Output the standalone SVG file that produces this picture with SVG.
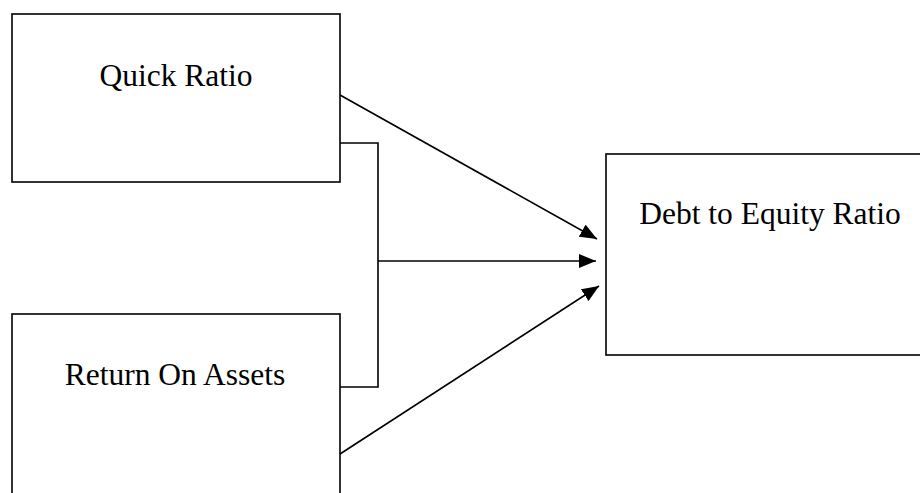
<svg xmlns="http://www.w3.org/2000/svg" width="920" height="493" viewBox="0 0 920 493">
<style>
.box{fill:#fff;stroke:#000;stroke-width:1.6}
.lbl{font-family:"Liberation Serif","Times New Roman",serif;font-size:31.5px;fill:#000;text-anchor:middle}
.c{fill:none;stroke:#000;stroke-width:1.6}
</style>
<defs>
<marker id="ah" markerWidth="17" markerHeight="14" refX="17" refY="7" orient="auto" markerUnits="userSpaceOnUse">
<path d="M0,0 L17,7 L0,14 Z" fill="#000"/>
</marker>
</defs>
<rect width="920" height="493" fill="#fff"/>
<g id="quick-ratio">
<rect class="box" x="12" y="14" width="328" height="168"/>
<text class="lbl" x="176" y="86">Quick Ratio</text>
</g>
<g id="return-on-assets">
<rect class="box" x="12" y="314" width="328" height="190"/>
<text class="lbl" x="175" y="385">Return On Assets</text>
</g>
<g id="debt-to-equity">
<rect class="box" x="606" y="154" width="330" height="201"/>
<text class="lbl" x="770" y="224">Debt to Equity Ratio</text>
</g>
<g id="connectors">
<line class="c" x1="340" y1="95" x2="597" y2="239" marker-end="url(#ah)"/>
<polyline class="c" points="340,143 378,143 378,387 340,387"/>
<line class="c" x1="378" y1="261" x2="596" y2="261" marker-end="url(#ah)"/>
<line class="c" x1="340" y1="454" x2="599" y2="286" marker-end="url(#ah)"/>
</g>
</svg>
